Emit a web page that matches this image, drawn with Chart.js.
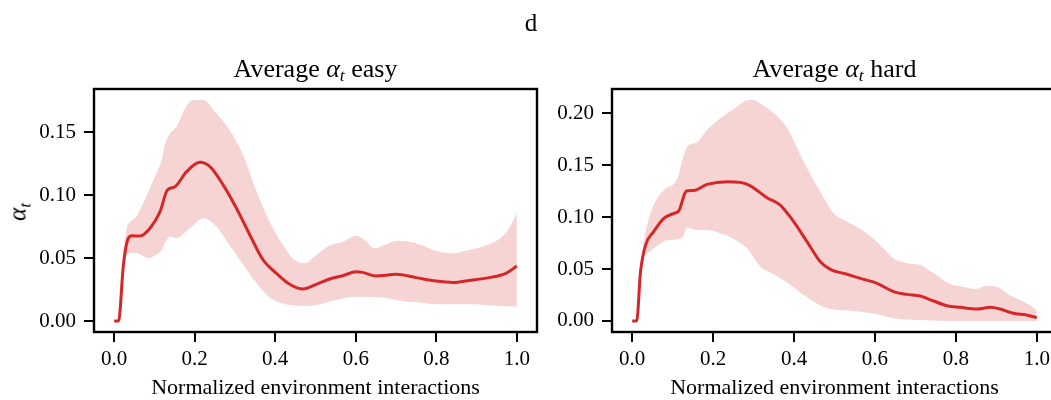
<!DOCTYPE html>
<html><head><meta charset="utf-8">
<script src="https://cdn.jsdelivr.net/npm/chart.js@4"></script>
<style>
html,body{margin:0;padding:0;background:#fff;overflow:hidden;width:1051px;height:400px;}
#wrap{position:relative;width:1051px;height:400px;overflow:hidden;font-family:"Liberation Serif","DejaVu Serif",serif;color:#000;}
canvas{position:absolute;top:0;}
.txt{position:absolute;white-space:nowrap;transform:translateX(-50%);line-height:1;}
.sub{font-size:0.68em;font-style:italic;position:relative;top:0.28em;}
</style></head><body>
<div id="wrap">
<canvas id="easy" width="560" height="400" style="left:0px;width:560px;height:400px;"></canvas>
<canvas id="hard" width="540" height="400" style="left:540px;width:540px;height:400px;"></canvas>
<div class="txt" style="left:531px;top:10px;font-size:25px;">d</div>
<div class="txt" style="left:315.5px;top:55.5px;font-size:26px;">Average <i>α</i><span class="sub">t</span> easy</div>
<div class="txt" style="left:834.5px;top:55.5px;font-size:26px;">Average <i>α</i><span class="sub">t</span> hard</div>
<div style="position:absolute;left:17px;top:212px;transform:translate(-50%,-50%) rotate(-90deg);font-size:25px;line-height:1;white-space:nowrap;"><i>α</i><span class="sub">t</span></div>
</div>
<script>
const xTicks = [0, 0.2, 0.4, 0.6, 0.8, 1.0];
const easyYTicks = [0, 0.05, 0.10, 0.15];
const hardYTicks = [0, 0.05, 0.10, 0.15, 0.20];

const easyMeanX = [0, 0.011, 0.023, 0.035, 0.044, 0.064, 0.089, 0.114, 0.132, 0.151, 0.180, 0.213, 0.238, 0.271, 0.304, 0.337, 0.370, 0.403, 0.436, 0.469, 0.502, 0.535, 0.568, 0.601, 0.617, 0.651, 0.700, 0.750, 0.799, 0.841, 0.882, 0.931, 0.973, 1.0];
const easyMeanY = [0, 0, 0.0445, 0.0657, 0.0678, 0.0675, 0.0737, 0.0869, 0.104, 0.1068, 0.1187, 0.1261, 0.1227, 0.108, 0.0895, 0.0684, 0.0485, 0.0379, 0.0292, 0.0254, 0.0292, 0.0334, 0.036, 0.0392, 0.0387, 0.0358, 0.0371, 0.0345, 0.0318, 0.0307, 0.0323, 0.0345, 0.0379, 0.0437];
const easyBandX = [0, 0.011, 0.02, 0.03, 0.044, 0.056, 0.064, 0.085, 0.106, 0.118, 0.126, 0.139, 0.155, 0.176, 0.196, 0.221, 0.254, 0.287, 0.320, 0.354, 0.386, 0.419, 0.444, 0.473, 0.502, 0.535, 0.568, 0.601, 0.622, 0.647, 0.668, 0.700, 0.733, 0.766, 0.799, 0.841, 0.882, 0.915, 0.956, 0.981, 1.0];
const easyUpper = [0, 0, 0.045, 0.072, 0.080, 0.083, 0.088, 0.103, 0.118, 0.128, 0.140, 0.149, 0.1545, 0.169, 0.1757, 0.1757, 0.165, 0.1518, 0.132, 0.1028, 0.079, 0.0604, 0.0498, 0.0459, 0.0525, 0.060, 0.063, 0.0678, 0.0644, 0.0578, 0.060, 0.0636, 0.063, 0.060, 0.0556, 0.0538, 0.0564, 0.059, 0.0652, 0.0737, 0.0856];
const easyLower = [0, 0, 0.038, 0.052, 0.054, 0.054, 0.053, 0.050, 0.053, 0.0564, 0.062, 0.067, 0.0657, 0.0705, 0.076, 0.0816, 0.075, 0.060, 0.045, 0.030, 0.019, 0.014, 0.0125, 0.0119, 0.0127, 0.0155, 0.018, 0.0193, 0.0192, 0.019, 0.0188, 0.017, 0.0153, 0.0145, 0.0133, 0.0133, 0.0133, 0.013, 0.012, 0.0117, 0.0114];

const hardMeanX = [0, 0.011, 0.0205, 0.033, 0.053, 0.078, 0.103, 0.115, 0.134, 0.152, 0.185, 0.235, 0.267, 0.292, 0.333, 0.366, 0.399, 0.432, 0.465, 0.490, 0.531, 0.564, 0.605, 0.646, 0.679, 0.712, 0.745, 0.778, 0.811, 0.852, 0.885, 0.909, 0.942, 0.975, 1.0];
const hardMeanY = [0, 0, 0.0474, 0.073, 0.0859, 0.0987, 0.1035, 0.1058, 0.125, 0.1256, 0.1314, 0.134, 0.1333, 0.130, 0.1186, 0.1115, 0.0955, 0.0763, 0.057, 0.0497, 0.0449, 0.041, 0.0362, 0.0282, 0.0256, 0.024, 0.0192, 0.0147, 0.0131, 0.0115, 0.0131, 0.0115, 0.0074, 0.0058, 0.0032];
const hardBandX = [0, 0.011, 0.025, 0.037, 0.053, 0.078, 0.111, 0.123, 0.136, 0.160, 0.185, 0.218, 0.251, 0.288, 0.300, 0.317, 0.350, 0.383, 0.424, 0.465, 0.498, 0.531, 0.564, 0.605, 0.646, 0.679, 0.712, 0.745, 0.786, 0.819, 0.848, 0.877, 0.901, 0.934, 0.975, 1.0];
const hardUpper = [0, 0, 0.0667, 0.0923, 0.1115, 0.126, 0.1365, 0.153, 0.1676, 0.1718, 0.1837, 0.1949, 0.2038, 0.2125, 0.2125, 0.209, 0.1997, 0.1853, 0.153, 0.1243, 0.1035, 0.0955, 0.0885, 0.0763, 0.0603, 0.0555, 0.0538, 0.0458, 0.0353, 0.033, 0.0308, 0.0337, 0.033, 0.0244, 0.017, 0.0106];
const hardLower = [0, 0, 0.0603, 0.065, 0.070, 0.0765, 0.0785, 0.080, 0.0897, 0.0875, 0.0875, 0.0843, 0.0788, 0.068, 0.061, 0.0522, 0.045, 0.037, 0.025, 0.015, 0.011, 0.010, 0.0088, 0.0064, 0.0026, 0.0015, 0.001, 0.0005, 0, 0, 0, 0, 0, 0, 0, 0];

const xLabel = 'Normalized environment interactions';

function pts(xs, ys) { return xs.map((x, i) => ({x: x, y: ys[i]})); }

Chart.defaults.font.family = '"Liberation Serif", "DejaVu Serif", serif';
Chart.defaults.color = '#000';

const framePlugin = {
  id: 'frame',
  afterDatasetsDraw(chart) {
    const {ctx, chartArea: a} = chart;
    ctx.save();
    ctx.strokeStyle = '#000';
    ctx.lineWidth = 2.4;
    ctx.strokeRect(a.left, a.top, a.right - a.left, a.bottom - a.top);
    ctx.restore();
  }
};

function makeChart(id, cfg) {
  const gridOpts = {drawOnChartArea: false, drawTicks: true, tickLength: 10, lineWidth: 2, tickWidth: 2, tickColor: '#000', color: '#000'};
  return new Chart(document.getElementById(id), {
    type: 'line',
    data: {datasets: [
      {label: 'mean', data: pts(cfg.mx, cfg.my), borderColor: '#d62728', borderWidth: 3, pointRadius: 0, fill: false, cubicInterpolationMode: 'monotone', order: 0},
      {label: 'upper', data: pts(cfg.bx, cfg.up), borderWidth: 0, borderColor: 'rgba(0,0,0,0)', backgroundColor: 'rgba(214,39,40,0.2)', pointRadius: 0, fill: '+1', cubicInterpolationMode: 'monotone', order: 1},
      {label: 'lower', data: pts(cfg.bx, cfg.lo), borderWidth: 0, borderColor: 'rgba(0,0,0,0)', pointRadius: 0, fill: false, cubicInterpolationMode: 'monotone', order: 2}
    ]},
    options: {
      responsive: false, animation: false, events: [],
      layout: {padding: {left: 0, top: 89, right: cfg.padR, bottom: 0}},
      plugins: {legend: {display: false}, tooltip: {enabled: false}, title: {display: false}},
      scales: {
        x: {
          type: 'linear', min: -0.05, max: 1.05,
          afterBuildTicks: s => { s.ticks = xTicks.map(v => ({value: v})); },
          afterFit: s => { s.height = 68; },
          grid: gridOpts, border: {display: false},
          ticks: {color: '#000', font: {size: 21}, padding: 5, maxRotation: 0, autoSkip: false, callback: v => Number(v).toFixed(1)},
          title: {display: true, text: xLabel, color: '#000', font: {size: 22, lineHeight: 1}, padding: {top: 0, bottom: 1}}
        },
        y: {
          type: 'linear', min: cfg.ymin, max: cfg.ymax,
          afterBuildTicks: s => { s.ticks = cfg.yt.map(v => ({value: v})); },
          afterFit: s => { s.width = cfg.yW; },
          grid: gridOpts, border: {display: false},
          ticks: {color: '#000', font: {size: 21}, padding: 8, autoSkip: false, callback: v => Number(v).toFixed(2)}
        }
      }
    },
    plugins: [framePlugin]
  });
}

makeChart('easy', {mx: easyMeanX, my: easyMeanY, bx: easyBandX, up: easyUpper, lo: easyLower, yt: easyYTicks, ymin: -0.0087, ymax: 0.1844, yW: 94, padR: 23});
makeChart('hard', {mx: hardMeanX, my: hardMeanY, bx: hardBandX, up: hardUpper, lo: hardLower, yt: hardYTicks, ymin: -0.0106, ymax: 0.2231, yW: 72, padR: 23});
</script>
</body></html>
